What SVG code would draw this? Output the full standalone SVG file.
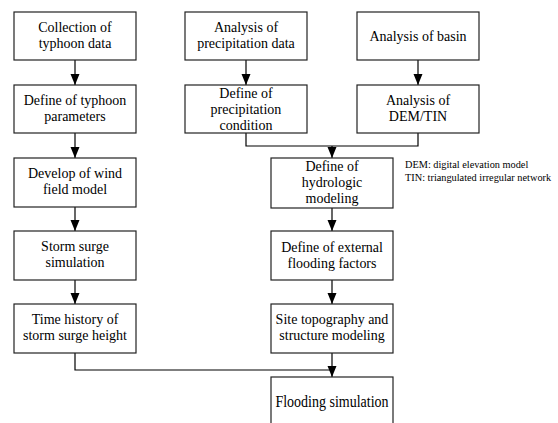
<svg xmlns="http://www.w3.org/2000/svg" width="558" height="423" viewBox="0 0 558 423">
<defs>
<marker id="arr" markerUnits="userSpaceOnUse" markerWidth="11" markerHeight="10" refX="11" refY="5" orient="auto">
<path d="M0,0.5 L11,5 L0,9.5 z" fill="#000"/>
</marker>
<style>
.box{fill:#fff;stroke:#222;stroke-width:1.2}
text{font-family:'Liberation Serif','Times New Roman',serif}
.t{font-size:14px;fill:#000;text-anchor:middle}
.n{font-size:10.3px;fill:#000}
.c{fill:none;stroke:#000;stroke-width:1.2}
</style>
</defs>
<rect width="558" height="423" fill="#fff"/>
<g id="connectors">
<line class="c" x1="75" y1="60" x2="75" y2="85" marker-end="url(#arr)"/>
<line class="c" x1="75" y1="133" x2="75" y2="158" marker-end="url(#arr)"/>
<line class="c" x1="75" y1="207" x2="75" y2="231" marker-end="url(#arr)"/>
<line class="c" x1="75" y1="280" x2="75" y2="304" marker-end="url(#arr)"/>
<line class="c" x1="246" y1="60" x2="246" y2="85" marker-end="url(#arr)"/>
<line class="c" x1="418" y1="60" x2="418" y2="85" marker-end="url(#arr)"/>
<polyline class="c" points="246,133 246,146 418,146 418,133"/>
<line class="c" x1="332" y1="146" x2="332" y2="158" marker-end="url(#arr)"/>
<line class="c" x1="332" y1="208" x2="332" y2="231" marker-end="url(#arr)"/>
<line class="c" x1="332" y1="280" x2="332" y2="304" marker-end="url(#arr)"/>
<polyline class="c" points="75,353 75,370 332,370"/>
<line class="c" x1="332" y1="353" x2="332" y2="377" marker-end="url(#arr)"/>
</g>
<g id="n1"><rect class="box" x="14" y="12" width="122" height="48"/><text class="t" x="75" y="32">Collection of</text><text class="t" x="75" y="48">typhoon data</text></g>
<g id="n2"><rect class="box" x="14" y="85" width="122" height="48"/><text class="t" x="75" y="105">Define of typhoon</text><text class="t" x="75" y="121">parameters</text></g>
<g id="n3"><rect class="box" x="14" y="158" width="122" height="49"/><text class="t" x="75" y="178">Develop of wind</text><text class="t" x="75" y="194">field model</text></g>
<g id="n4"><rect class="box" x="14" y="231" width="122" height="49"/><text class="t" x="75" y="251">Storm surge</text><text class="t" x="75" y="267">simulation</text></g>
<g id="n5"><rect class="box" x="14" y="304" width="122" height="49"/><text class="t" x="75" y="324">Time history of</text><text class="t" x="75" y="340">storm surge height</text></g>
<g id="n6"><rect class="box" x="185" y="12" width="122" height="48"/><text class="t" x="246" y="32">Analysis of</text><text class="t" x="246" y="48">precipitation data</text></g>
<g id="n7"><rect class="box" x="185" y="85" width="122" height="48"/><text class="t" x="246" y="98">Define of</text><text class="t" x="246" y="114">precipitation</text><text class="t" x="246" y="130">condition</text></g>
<g id="n8"><rect class="box" x="357" y="12" width="122" height="48"/><text class="t" x="418" y="41">Analysis of basin</text></g>
<g id="n9"><rect class="box" x="357" y="85" width="122" height="48"/><text class="t" x="418" y="105">Analysis of</text><text class="t" x="418" y="121">DEM/TIN</text></g>
<g id="n10"><rect class="box" x="271" y="158" width="122" height="50"/><text class="t" transform="translate(332,171) scale(1,1.1)">Define of</text><text class="t" transform="translate(332,187) scale(1,1.1)">hydrologic</text><text class="t" transform="translate(332,203) scale(1,1.1)">modeling</text></g>
<g id="n11"><rect class="box" x="271" y="231" width="122" height="49"/><text class="t" transform="translate(332,252) scale(1,1.1)">Define of external</text><text class="t" transform="translate(332,268) scale(1,1.1)">flooding factors</text></g>
<g id="n12"><rect class="box" x="271" y="304" width="122" height="49"/><text class="t" x="332" y="324">Site topography and</text><text class="t" x="332" y="340">structure modeling</text></g>
<g id="n13"><rect class="box" x="271" y="377" width="122" height="50"/><text class="t" transform="translate(332,407) scale(1,1.2)">Flooding simulation</text></g>
<g id="notes"><text class="n" x="405" y="168">DEM: digital elevation model</text><text class="n" x="405" y="181">TIN: triangulated irregular network</text></g>
</svg>
